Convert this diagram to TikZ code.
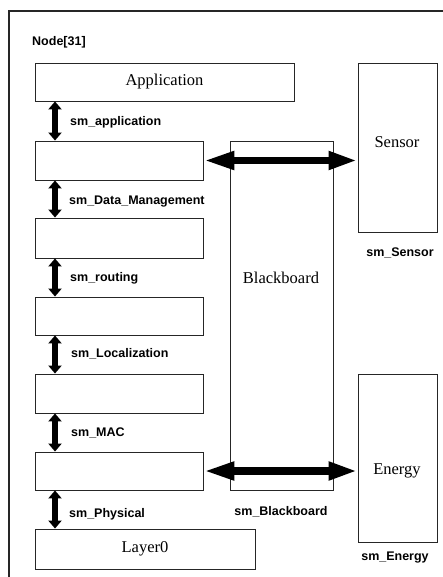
\documentclass[tikz,border=0pt]{standalone}
\usepackage{fontspec}
\setmainfont{Liberation Serif}
\newfontfamily\labfont{Liberation Sans}
\usetikzlibrary{arrows.meta}
\begin{document}
\begin{tikzpicture}[x=1pt,y=-1pt,
  box/.style={draw=black!85,line width=0.9pt,inner sep=0pt,font=\fontsize{16.5}{18}\selectfont},
  btext/.style={inner sep=0pt,font=\fontsize{16.5}{18}\selectfont},
  lab/.style={font=\labfont\bfseries\fontsize{12.5}{14}\selectfont,anchor=west,inner sep=0pt},
  clab/.style={font=\labfont\bfseries\fontsize{12.5}{14}\selectfont,inner sep=0pt},
  varr/.style={line width=6pt,{Triangle[length=8pt,width=13pt]}-{Triangle[length=8pt,width=13pt]}},
  harr/.style={line width=7.5pt,{Triangle[length=31pt,width=17pt]}-{Triangle[length=29pt,width=17pt]}}]
\useasboundingbox (0,0) rectangle (442,577);
\fill[white] (0,0) rectangle (442,577);
% outer frame
\coordinate (fbl) at (9,578);
\coordinate (ftl) at (9,11);
\coordinate (ftr) at (443,11);
\draw[line width=1.2pt,black!85] (fbl) -- (ftl) -- (ftr);
\node[lab] (title) at (32,42) {Node[31]};
% boxes
\node[box,minimum width=259pt,minimum height=38pt] (app) at (164.5,82) {Application};
\node[box,minimum width=168pt,minimum height=39pt] (b2) at (119,160.5) {};
\node[box,minimum width=168pt,minimum height=40pt] (b3) at (119,238) {};
\node[box,minimum width=168pt,minimum height=38pt] (b4) at (119,316) {};
\node[box,minimum width=168pt,minimum height=39pt] (b5) at (119,393.5) {};
\node[box,minimum width=168pt,minimum height=38pt] (b6) at (119,471) {};
\node[box,minimum width=220pt,minimum height=40pt] (l0) at (145,549) {Layer0};
\node[box,minimum width=103pt,minimum height=349pt] (bb) at (281.5,315.5) {};
\node[btext] (bbt) at (281,278) {Blackboard};
\node[box,minimum width=79pt,minimum height=169pt] (sen) at (397.5,147.5) {};
\node[btext] (sent) at (397,142) {Sensor};
\node[box,minimum width=79pt,minimum height=168pt] (en) at (397.5,458) {};
\node[btext] (ent) at (397,471) {Energy};
% vertical arrows
\draw[varr] (app.south -| 55,0) -- (b2.north -| 55,0);
\draw[varr] (b2.south -| 55,0) -- (b3.north -| 55,0);
\draw[varr] (b3.south -| 55,0) -- (b4.north -| 55,0);
\draw[varr] (b4.south -| 55,0) -- (b5.north -| 55,0);
\draw[varr] (b5.south -| 55,0) -- (b6.north -| 55,0);
\draw[varr] (b6.south -| 55,0) -- (l0.north -| 55,0);
% horizontal arrows
\draw[harr] (b2.east) -- (b2.east -| sen.west);
\draw[harr] (b6.east) -- (b6.east -| en.west);
% labels
\node[lab] (l1) at (70,122) {sm\_application};
\node[lab] (l2) at (69,202) {sm\_Data\_Management};
\node[lab] (l3) at (70,278) {sm\_routing};
\node[lab] (l4) at (71,354) {sm\_Localization};
\node[lab] (l5) at (71,433) {sm\_MAC};
\node[lab] (l6) at (69,514) {sm\_Physical};
\node[clab] (l7) at (281,512) {sm\_Blackboard};
\node[clab] (l8) at (400,253) {sm\_Sensor};
\node[clab] (l9) at (395,558) {sm\_Energy};
\end{tikzpicture}
\end{document}
